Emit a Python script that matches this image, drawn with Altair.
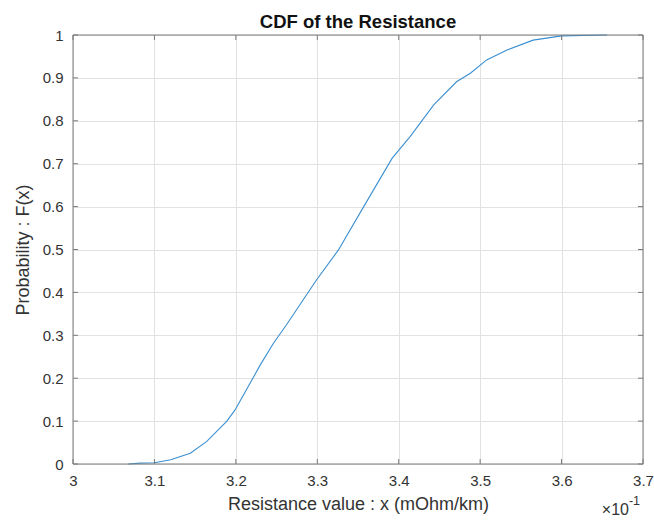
import altair as alt
import pandas as pd

# CDF values (x in units of 1e-1 mOhm/km)
resistance = [3.068, 3.082, 3.100, 3.120, 3.144, 3.164, 3.189, 3.199, 3.230, 3.246,
              3.262, 3.299, 3.326, 3.357, 3.392, 3.414, 3.443, 3.471, 3.488, 3.508,
              3.533, 3.565, 3.600, 3.656]
probability = [0.000, 0.002, 0.003, 0.010, 0.025, 0.052, 0.100, 0.126, 0.231, 0.281,
               0.324, 0.429, 0.499, 0.600, 0.713, 0.763, 0.837, 0.891, 0.911, 0.942,
               0.965, 0.988, 0.998, 1.000]

x_ticks = [3.0, 3.1, 3.2, 3.3, 3.4, 3.5, 3.6, 3.7]
y_ticks = [0, 0.1, 0.2, 0.3, 0.4, 0.5, 0.6, 0.7, 0.8, 0.9, 1.0]

title_text = "CDF of the Resistance"
x_title = "Resistance value : x (mOhm/km)"
y_title = "Probability : F(x)"

FONT = "Liberation Sans"
BOX = "#7a7a7a"
GRID = "#e2e2e2"
TXT = "#333333"

W, H = 570, 429

df = pd.DataFrame({"x": resistance, "y": probability})
xt = pd.DataFrame({"t": x_ticks})
yt = pd.DataFrame({"t": y_ticks})
one = pd.DataFrame({"a": [0]})

xs = alt.Scale(domain=[3.0, 3.7], nice=False, zero=False)
ys = alt.Scale(domain=[0, 1], nice=False)

x_axis = alt.Axis(values=x_ticks, title=x_title,
                  labelExpr="datum.value === 3 ? '3' : format(datum.value, '.1f')",
                  grid=True, gridColor=GRID, tickSize=0, domain=False,
                  labelPadding=9, titlePadding=7, labelFontSize=15, titleFontSize=18,
                  labelColor=TXT, titleColor=TXT, labelFont=FONT, titleFont=FONT,
                  titleFontWeight="normal", labelFlush=False)
y_axis = alt.Axis(values=y_ticks, title=y_title,
                  labelExpr="datum.value === 0 ? '0' : datum.value === 1 ? '1' : format(datum.value, '.1f')",
                  grid=True, gridColor=GRID, tickSize=0, domain=False,
                  labelPadding=10, titlePadding=10, labelFontSize=15, titleFontSize=18,
                  labelColor=TXT, titleColor=TXT, labelFont=FONT, titleFont=FONT,
                  titleFontWeight="normal", labelFlush=False)

line = alt.Chart(df).mark_line(color="#3b8fd0", strokeWidth=1.1).encode(
    x=alt.X("x:Q", scale=xs, axis=x_axis),
    y=alt.Y("y:Q", scale=ys, axis=y_axis),
)

# box frame
frame = alt.Chart(one).mark_rect(
    fill=None, stroke=BOX, strokeWidth=1
).encode(x=alt.value(0), x2=alt.value(W), y=alt.value(0), y2=alt.value(H))

tl = 5.0
bottom_ticks = alt.Chart(xt).mark_rule(color=BOX).encode(
    x=alt.X("t:Q", scale=xs), y=alt.value(H), y2=alt.value(H - tl))
top_ticks = alt.Chart(xt).mark_rule(color=BOX).encode(
    x=alt.X("t:Q", scale=xs), y=alt.value(0), y2=alt.value(tl))
left_ticks = alt.Chart(yt).mark_rule(color=BOX).encode(
    y=alt.Y("t:Q", scale=ys), x=alt.value(0), x2=alt.value(tl))
right_ticks = alt.Chart(yt).mark_rule(color=BOX).encode(
    y=alt.Y("t:Q", scale=ys), x=alt.value(W), x2=alt.value(W - tl))

title = alt.Chart(one).mark_text(
    text=title_text, font=FONT, fontSize=18.5, fontWeight="bold", color="#111111",
    align="center", baseline="alphabetic"
).encode(x=alt.value(W / 2), y=alt.value(-7))

exp_base = alt.Chart(one).mark_text(
    text="×10", font=FONT, fontSize=16, color=TXT, align="right", baseline="alphabetic"
).encode(x=alt.value(W - 14), y=alt.value(H + 51))
exp_pow = alt.Chart(one).mark_text(
    text="-1", font=FONT, fontSize=12.5, color=TXT, align="right", baseline="alphabetic"
).encode(x=alt.value(W - 3), y=alt.value(H + 41))

chart = alt.layer(
    line, bottom_ticks, top_ticks, left_ticks, right_ticks, frame, title, exp_base, exp_pow
).properties(
    width=W, height=H,
    padding={"left": 73, "top": 35, "right": 11, "bottom": 56},
    autosize=alt.AutoSizeParams(type="none"),
).configure_view(stroke=None).configure(background="white")

chart.save("out.html", embed_options={"renderer": "svg", "actions": False})
